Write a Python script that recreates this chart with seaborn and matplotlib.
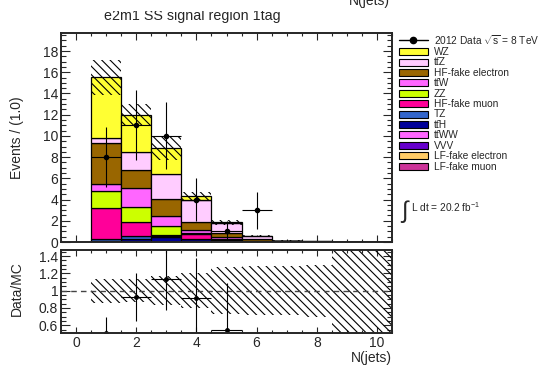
import numpy as np
import pandas as pd
import matplotlib
matplotlib.use("Agg")
import matplotlib.pyplot as plt
import seaborn as sns
from matplotlib.patches import Patch, Rectangle
from matplotlib.lines import Line2D
from matplotlib.legend_handler import HandlerPatch
from matplotlib.ticker import MultipleLocator, FixedLocator, FixedFormatter, NullFormatter
from matplotlib.transforms import Bbox, TransformedBbox

# ---- data ------------------------------------------------------------
njets = [1, 2, 3, 4, 5, 6, 7, 8, 9, 10]
processes = ["WZ", "ttZ", "HF-fake electron", "ttW", "ZZ", "HF-fake muon",
             "TZ", "ttH", "ttWW", "VVV", "LF-fake electron", "LF-fake muon"]
legend_labels = ["WZ", "tt\u0304Z", "HF-fake electron", "tt\u0304W", "ZZ",
                 "HF-fake muon", "TZ", "tt\u0304H", "tt\u0304WW", "VVV",
                 "LF-fake electron", "LF-fake muon"]
colors = ["#ffff33", "#ffccff", "#996600", "#ff66ff", "#ccff00", "#ff0099",
          "#3366cc", "#000099", "#ff66ff", "#6600cc", "#ffcc66", "#cc3399"]

wz      = [5.75, 3.50, 2.40, 0.35, 0.05, 0.02, 0.00, 0.00, 0.00, 0.00]
ttz     = [0.45, 1.65, 2.35, 2.15, 0.95, 0.30, 0.05, 0.03, 0.01, 0.00]
hf_el   = [3.90, 1.70, 1.60, 0.75, 0.40, 0.10, 0.02, 0.00, 0.00, 0.00]
ttw     = [0.60, 1.80, 1.00, 0.25, 0.15, 0.03, 0.01, 0.00, 0.00, 0.00]
zz      = [1.60, 1.45, 0.80, 0.05, 0.02, 0.00, 0.00, 0.00, 0.00, 0.00]
hf_mu   = [3.00, 1.25, 0.15, 0.50, 0.05, 0.00, 0.00, 0.00, 0.00, 0.00]
tz      = [0.15, 0.35, 0.10, 0.03, 0.01, 0.00, 0.00, 0.00, 0.00, 0.00]
tth     = [0.08, 0.20, 0.40, 0.25, 0.20, 0.10, 0.04, 0.02, 0.01, 0.00]
ttww    = [0.00, 0.01, 0.01, 0.01, 0.01, 0.01, 0.01, 0.01, 0.00, 0.00]
vvv     = [0.02, 0.03, 0.02, 0.01, 0.00, 0.00, 0.00, 0.00, 0.00, 0.00]
lf_el   = [0.00, 0.00, 0.00, 0.00, 0.00, 0.00, 0.00, 0.00, 0.00, 0.00]
lf_mu   = [0.00, 0.00, 0.00, 0.00, 0.00, 0.00, 0.00, 0.00, 0.00, 0.00]

data_counts = [8, 11, 10, 4, 1, 3, 0, 0, 0, 0]
mc_stat_err = [1.65, 1.05, 1.10, 0.35, 0.25, 0.07, 0.03, 0.02, 0.01, 0.01]
ratio_band  = [0.14, 0.13, 0.17, 0.20, 0.27, 0.28, 0.28, 0.30, 1.00, 1.00]

ratio_ticks = [0.6, 0.8, 1.0, 1.2, 1.4]
ratio_tick_labels = ["0.6", "0.8", "1", "1.2", "1.4"]

series = [wz, ttz, hf_el, ttw, zz, hf_mu, tz, tth, ttww, vvv, lf_el, lf_mu]

# ---- style -----------------------------------------------------------
sns.set_style("ticks")
plt.rcParams["font.family"] = ["Liberation Sans", "DejaVu Sans"]
plt.rcParams["mathtext.fontset"] = "custom"
plt.rcParams["mathtext.rm"] = "Liberation Sans"
plt.rcParams["mathtext.it"] = "Liberation Sans:italic"
plt.rcParams["hatch.linewidth"] = 0.8
plt.rcParams["axes.linewidth"] = 1.4

long = pd.DataFrame(
    [(p, n, v) for p, vals in zip(processes, series) for n, v in zip(njets, vals)],
    columns=["process", "njets", "events"],
)
palette = dict(zip(processes, colors))
edges = [b + 0.5 for b in range(0, 11)]

x = np.array(njets, dtype=float)
total = np.sum(np.array(series), axis=0)
dat = np.array(data_counts, dtype=float)
err = np.array(mc_stat_err)
rband = np.array(ratio_band)

fig = plt.figure(figsize=(5.43, 3.67), dpi=100)
W, H = 543.0, 367.0
ax = fig.add_axes([61 / W, 1 - 242 / H, 331 / W, 209 / H])
ax2 = fig.add_axes([61 / W, 1 - 333 / H, 331 / W, 83 / H])

# stacked backgrounds (first process ends on top)
sns.histplot(data=long, x="njets", weights="events", hue="process",
             hue_order=processes, palette=palette, multiple="stack",
             bins=edges, element="bars", alpha=1, edgecolor="black",
             linewidth=0.9, legend=False, ax=ax)

# MC statistical uncertainty
ax.bar(x, 2 * err, bottom=total - err, width=1.0, color="none",
       edgecolor="black", linewidth=0, hatch="\\\\\\\\")

# data
m = dat > 0
ax.errorbar(x[m], dat[m], yerr=np.sqrt(dat[m]), xerr=0.5, fmt="o",
            color="black", ms=3, lw=0.8, capsize=0)

ax.set_xlim(-0.5, 10.5)
ax.set_ylim(0, 19.7)
ax.set_xlabel("")
ax.set_ylabel("Events / (1.0)", fontsize=10)
ax.yaxis.set_label_coords(-0.112, 0.5)
ax.xaxis.set_major_locator(MultipleLocator(2))
ax.xaxis.set_minor_locator(MultipleLocator(0.5))
ax.yaxis.set_major_locator(MultipleLocator(2))
ax.yaxis.set_minor_locator(MultipleLocator(0.5))
ax.xaxis.set_major_formatter(NullFormatter())
ax.tick_params(which="both", direction="in", top=True, right=True, width=0.8)
ax.tick_params(axis="y", which="major", length=6.5, labelsize=10, pad=2)
ax.tick_params(axis="y", which="minor", length=3.3)
ax.tick_params(axis="x", which="major", length=5)
ax.tick_params(axis="x", which="minor", length=2.5)

# ratio panel
ax2.bar(x, 2 * rband, bottom=1 - rband, width=1.0, color="none",
        edgecolor="black", linewidth=0, hatch="\\\\\\\\")
ax2.axhline(1.0, color="#444444", lw=1.0, ls=(0, (4, 3)))
ratio = np.where(total > 0, dat / np.where(total > 0, total, 1), 0)
rerr = np.sqrt(dat) / np.where(total > 0, total, 1)
ax2.errorbar(x[m], ratio[m], yerr=rerr[m], xerr=0.5, fmt="o",
             color="black", ms=2.5, lw=0.8, capsize=0)
ax2.set_xlim(-0.5, 10.5)
ax2.set_ylim(0.51, 1.47)
ax2.xaxis.set_major_locator(MultipleLocator(2))
ax2.xaxis.set_minor_locator(MultipleLocator(0.5))
ax2.yaxis.set_major_locator(FixedLocator(ratio_ticks))
ax2.yaxis.set_major_formatter(FixedFormatter(ratio_tick_labels))
ax2.yaxis.set_minor_locator(MultipleLocator(0.05))
ax2.tick_params(which="both", direction="in", top=True, right=True, width=0.8)
ax2.tick_params(axis="y", which="major", length=6.5, labelsize=10, pad=2)
ax2.tick_params(axis="y", which="minor", length=3.3)
ax2.tick_params(axis="x", which="major", length=4, labelsize=10, pad=2)
ax2.tick_params(axis="x", which="minor", length=2)
ax2.set_ylabel("Data/MC", fontsize=10)
ax2.yaxis.set_label_coords(-0.112, 0.53)
ax2.set_xlabel("N(jets)", fontsize=10, loc="right", labelpad=1)


# legend: compact boxes centred in taller rows
def legend_box(legend, orig_handle, xdescent, ydescent, width, height, fontsize):
    h = 0.7 * height
    return Rectangle((-xdescent, -ydescent + (height - h) / 2), width, h)


handles = [Line2D([], [], color="black", marker="o", ms=4.5, lw=1)]
handles += [Patch(facecolor=c, edgecolor="black", linewidth=0.8) for c in colors]
labels = [r"2012 Data $\sqrt{\rm s}$ = 8 TeV"] + legend_labels
ax.legend(handles, labels, loc="upper left", bbox_to_anchor=(1.021, 1.0),
          frameon=False, fontsize=7.3, handlelength=2.86, handleheight=1.13,
          labelspacing=0.0, handletextpad=0.6, borderaxespad=0, borderpad=0,
          handler_map={Patch: HandlerPatch(patch_func=legend_box)})

fig.text(401 / W, 1 - 218 / H, "\u222b", fontsize=17, va="baseline", ha="left")
fig.text(411 / W, 1 - 212 / H, r"L dt = 20.2 fb$^{-1}$", fontsize=7.3,
         va="baseline", ha="left")

# pad titles
t = fig.text(192 / W, 1 - 20 / H, "e2m1 SS signal region 1tag", fontsize=10.3,
             ha="center", va="baseline")
t.set_clip_box(TransformedBbox(Bbox([[0, 0], [1, 1 - 10.5 / H]]), fig.transFigure))
t.set_clip_on(True)
fig.text(390 / W, 1 - 5 / H, "N(jets)", fontsize=10, ha="right", va="baseline")

fig.savefig("out.png", dpi=100)
